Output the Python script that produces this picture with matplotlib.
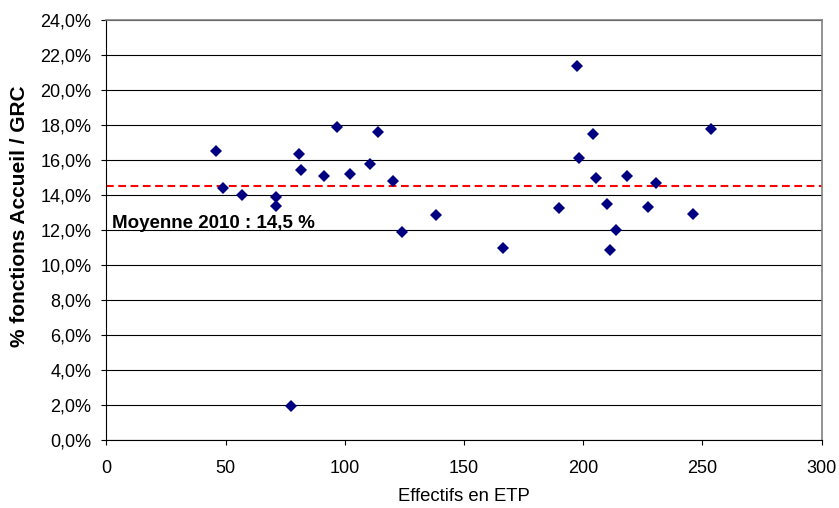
import matplotlib.pyplot as plt

plt.rcParams['font.family'] = ['Liberation Sans', 'DejaVu Sans']

# effectifs (ETP) et part des fonctions Accueil / GRC (%)
effectifs = [45.9, 48.9, 56.9, 71.2, 71.2, 77.5, 80.8, 81.5, 91.4, 96.7,
             102.3, 110.7, 114.1, 120.2, 123.9, 138.4, 166.2, 190.0, 197.4, 198.2,
             204.1, 205.3, 209.8, 211.2, 213.9, 218.5, 227.0, 230.4, 246.2, 253.4]
part_accueil = [16.53, 14.38, 14.02, 13.90, 13.37, 1.94, 16.36, 15.43, 15.07, 17.89,
                15.20, 15.75, 17.62, 14.80, 11.90, 12.84, 10.99, 13.26, 21.37, 16.13,
                17.50, 14.99, 13.49, 10.84, 12.00, 15.10, 13.31, 14.67, 12.93, 17.77]
moyenne = 14.5

x_ticks = [0, 50, 100, 150, 200, 250, 300]
y_ticks = [0, 2, 4, 6, 8, 10, 12, 14, 16, 18, 20, 22, 24]
y_labels = ['0,0%', '2,0%', '4,0%', '6,0%', '8,0%', '10,0%', '12,0%',
            '14,0%', '16,0%', '18,0%', '20,0%', '22,0%', '24,0%']

fig = plt.figure(figsize=(8.39, 5.08), dpi=100)
ax = fig.add_axes([0.1267, 0.1339, 0.8527, 0.8267])

for y in y_ticks:
    ax.axhline(y, color='black', lw=0.8, zorder=1)

ax.axhline(moyenne, color='#ff0000', lw=1.5, dashes=(3.7, 2.2), zorder=2)
ax.plot(effectifs, part_accueil, 'D', color='#000080', ms=6.2, mew=0, zorder=3)

ax.text(2.5, 12.13, 'Moyenne 2010 : 14,5 %', fontsize=13.5, fontweight='bold',
        ha='left', va='baseline', zorder=4)

ax.set_xlim(0, 300)
ax.set_ylim(0, 24)
ax.set_xticks(x_ticks)
ax.set_yticks(y_ticks)
ax.set_yticklabels(y_labels)
ax.tick_params(axis='both', direction='out', length=3.6, width=0.8, labelsize=13, colors='black')
ax.tick_params(axis='x', pad=11)
ax.tick_params(axis='y', pad=7)

for side in ['left', 'bottom']:
    ax.spines[side].set_color('black')
    ax.spines[side].set_linewidth(0.8)
for side in ['top', 'right']:
    ax.spines[side].set_color('#808080')
    ax.spines[side].set_linewidth(1.2)

ax.set_xlabel('Effectifs en ETP', fontsize=13.3)
ax.xaxis.set_label_coords(0.5, -0.114)
fig.text(19.5 / 839, 1 - 216 / 508, '% fonctions Accueil / GRC', rotation=90,
         fontsize=15, fontweight='bold', ha='center', va='center')

fig.savefig('out.png', dpi=100)
